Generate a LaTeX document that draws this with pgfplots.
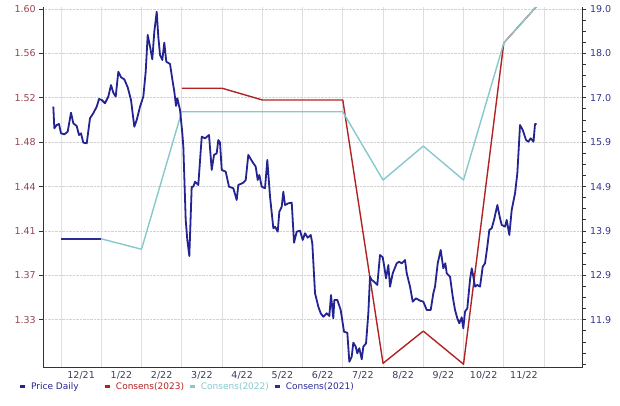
\documentclass[border=0pt]{standalone}
\usepackage{pgfplots}
\pgfplotsset{compat=1.18}
\usepackage{fontspec}
\setmainfont{DejaVu Sans}
\definecolor{pricecol}{RGB}{35,35,145}
\definecolor{c23}{RGB}{178,34,34}
\definecolor{c22}{RGB}{135,200,205}
\definecolor{c21}{RGB}{45,45,150}
\definecolor{axiscol}{RGB}{50,50,50}
\definecolor{leftlab}{RGB}{150,70,80}
\definecolor{rightlab}{RGB}{55,55,140}
\definecolor{xlab}{RGB}{60,60,90}
\begin{document}
\begin{tikzpicture}
% grid and consensus lines (right scale)
\begin{axis}[
  at={(0,0)}, anchor=south west,
  scale only axis, width=539.2pt, height=360pt,
  xmin=-0.44, xmax=12.956, ymin=10.764, ymax=19.034,
  axis x line=bottom, axis y line=right,
  axis line style={-, draw=axiscol, line width=1.4pt},
  xtick={0,...,12}, xticklabels={},
  ytick={11.86,12.88,13.9,14.92,15.94,16.96,17.98,19.0}, yticklabels={},
  major tick length=0pt,
  xmajorgrids, ymajorgrids,
  x grid style={gray!25, line width=0.7pt},
  y grid style={gray!35, densely dotted, line width=0.7pt},
]
\addplot[c23, line width=1.4pt, line join=round] coordinates {
(3,17.18)(4,17.18)(5,16.91)(7,16.91)(8,10.86)(9,11.60)(10,10.84)(11,18.22)(12,19.25)};
\addplot[c22, line width=1.4pt, line join=round] coordinates {
(0,13.72)(1,13.72)(2,13.48)(3,16.64)(7,16.64)(8,15.07)(9,15.85)(10,15.07)(11,18.22)(12,19.25)};
\addplot[c21, line width=1.6pt] coordinates {(0,13.72)(1,13.72)};
\end{axis}
% right axis ticks and labels
\begin{axis}[
  at={(0,0)}, anchor=south west,
  scale only axis, width=539.2pt, height=360pt,
  xmin=-0.44, xmax=12.956, ymin=10.764, ymax=19.034,
  axis x line=none, axis y line=right,
  axis line style={-, draw=axiscol, line width=1.4pt},
  ytick={10.84,11.095,11.35,11.605,11.86,12.115,12.37,12.625,12.88,13.135,13.39,13.645,13.9,14.155,14.41,14.665,14.92,15.175,15.43,15.685,15.94,16.195,16.45,16.705,16.96,17.215,17.47,17.725,17.98,18.235,18.49,18.745,19.0},
  yticklabels={{},{},{},{},11.9,{},{},{},12.9,{},{},{},13.9,{},{},{},14.9,{},{},{},15.9,{},{},{},17.0,{},{},{},18.0,{},{},{},19.0},
  tick align=outside, major tick length=3.5pt,
  ytick style={draw=axiscol, line width=0.9pt},
  yticklabel style={font=\fontsize{9.5}{11}\selectfont, text=rightlab, xshift=0.5pt},
]
\end{axis}
% price (left scale)
\begin{axis}[
  at={(0,0)}, anchor=south west,
  scale only axis, width=539.2pt, height=360pt,
  xmin=-0.44, xmax=12.956, ymin=1.2851, ymax=1.6013,
  axis x line=bottom, axis y line=left,
  axis line style={-, draw=axiscol, line width=1.4pt},
  xtick={0.5,1.5,2.5,3.5,4.5,5.5,6.5,7.5,8.5,9.5,10.5,11.5},
  xticklabels={12/21,1/22,2/22,3/22,4/22,5/22,6/22,7/22,8/22,9/22,10/22,11/22},
  xtick style={draw=none},
  xticklabel style={font=\fontsize{9.5}{11}\selectfont, text=xlab, yshift=3.5pt},
  ytick={1.327,1.366,1.405,1.444,1.483,1.522,1.561,1.60},
  yticklabels={1.33,1.37,1.41,1.44,1.48,1.52,1.56,1.60},
  tick align=outside, major tick length=4pt,
  ytick style={draw=axiscol, line width=0.8pt},
  yticklabel style={font=\fontsize{9.5}{11}\selectfont, text=leftlab},
  legend columns=4,
  legend style={at={(-0.046,-0.035)}, anchor=north west, draw=none, fill=none,
    font=\fontsize{9}{11}\selectfont, inner sep=0pt},
  legend cell align=left,
  legend image code/.code={\draw[#1, line width=2.4pt] (0pt,0pt) -- (5.5pt,0pt);},
]
\addplot[pricecol, line width=1.8pt, line join=round] coordinates {
(-0.191,1.5142)(-0.166,1.4952)(-0.107,1.4981)(-0.050,1.4990)(0.000,1.4908)(0.082,1.4899)
(0.166,1.4922)(0.248,1.5089)(0.306,1.4996)(0.390,1.4972)(0.447,1.4893)(0.497,1.4908)
(0.554,1.4826)(0.639,1.4820)(0.720,1.5040)(0.802,1.5084)(0.887,1.5142)(0.944,1.5209)
(1.011,1.5201)(1.093,1.5172)(1.175,1.5230)(1.242,1.5332)(1.299,1.5265)(1.359,1.5230)
(1.424,1.5449)(1.491,1.5400)(1.573,1.5382)(1.657,1.5312)(1.739,1.5201)(1.821,1.4966)
(1.881,1.5025)(1.963,1.5142)(2.045,1.5230)(2.104,1.5449)(2.154,1.5772)(2.219,1.5655)
(2.268,1.5558)(2.318,1.5801)(2.378,1.5976)(2.417,1.5757)(2.460,1.5596)(2.517,1.5552)
(2.566,1.5704)(2.616,1.5537)(2.708,1.5517)(2.775,1.5361)(2.815,1.5274)(2.857,1.5148)
(2.889,1.5216)(2.957,1.5113)(3.014,1.4908)(3.039,1.4790)(3.098,1.4147)(3.138,1.3971)
(3.188,1.3830)(3.247,1.4439)(3.287,1.4439)(3.329,1.4483)(3.411,1.4454)(3.496,1.4878)
(3.578,1.4864)(3.677,1.4893)(3.744,1.4586)(3.801,1.4718)(3.868,1.4732)(3.908,1.4849)
(3.950,1.4826)(3.993,1.4586)(4.092,1.4571)(4.174,1.4439)(4.281,1.4425)(4.365,1.4322)
(4.405,1.4454)(4.529,1.4474)(4.589,1.4498)(4.653,1.4718)(4.753,1.4659)(4.837,1.4615)
(4.887,1.4498)(4.927,1.4542)(4.986,1.4439)(5.068,1.4425)(5.125,1.4674)(5.193,1.4351)
(5.275,1.4074)(5.317,1.4088)(5.384,1.4044)(5.424,1.4219)(5.483,1.4263)(5.523,1.4395)
(5.565,1.4278)(5.647,1.4293)(5.732,1.4299)(5.789,1.3947)(5.856,1.4044)(5.938,1.4053)
(6.005,1.3971)(6.062,1.4030)(6.129,1.3991)(6.204,1.4015)(6.243,1.3942)(6.311,1.3503)
(6.393,1.3385)(6.452,1.3327)(6.517,1.3297)(6.601,1.3327)(6.666,1.3303)(6.708,1.3488)
(6.765,1.3283)(6.790,1.3444)(6.865,1.3444)(6.949,1.3356)(7.031,1.3165)(7.113,1.3157)
(7.163,1.2902)(7.222,1.2946)(7.262,1.3069)(7.322,1.3034)(7.361,1.2976)(7.411,1.3020)
(7.471,1.2923)(7.511,1.3034)(7.578,1.3063)(7.635,1.3327)(7.677,1.3649)(7.719,1.3620)
(7.776,1.3605)(7.858,1.3576)(7.925,1.3839)(7.992,1.3819)(8.025,1.3751)(8.075,1.3634)
(8.132,1.3751)(8.174,1.3561)(8.241,1.3678)(8.340,1.3766)(8.398,1.3780)(8.465,1.3766)
(8.547,1.3795)(8.589,1.3678)(8.671,1.3561)(8.738,1.3429)(8.820,1.3459)(8.919,1.3438)
(9.001,1.3429)(9.086,1.3356)(9.185,1.3356)(9.250,1.3503)(9.292,1.3561)(9.359,1.3766)
(9.433,1.3883)(9.498,1.3722)(9.548,1.3766)(9.583,1.3678)(9.665,1.3649)(9.732,1.3473)
(9.789,1.3356)(9.846,1.3283)(9.896,1.3239)(9.955,1.3292)(9.995,1.3195)(10.037,1.3341)
(10.094,1.3371)(10.161,1.3620)(10.204,1.3722)(10.244,1.3649)(10.286,1.3561)(10.343,1.3576)
(10.410,1.3561)(10.477,1.3736)(10.534,1.3766)(10.591,1.3912)(10.641,1.4059)(10.700,1.4074)
(10.758,1.4147)(10.840,1.4278)(10.907,1.4161)(10.949,1.4103)(11.031,1.4088)(11.073,1.4147)
(11.138,1.4015)(11.197,1.4234)(11.280,1.4381)(11.337,1.4557)(11.404,1.4981)(11.471,1.4937)
(11.553,1.4849)(11.610,1.4834)(11.670,1.4864)(11.739,1.4834)(11.776,1.4990)(11.818,1.4990)};
\addlegendentry{\makebox[73pt][l]{\hspace{2.5pt}\textcolor{pricecol}{Price Daily}}}
\addlegendimage{c23}
\addlegendentry{\makebox[73pt][l]{\hspace{2.5pt}\textcolor{c23}{Consens(2023)}}}
\addlegendimage{c22}
\addlegendentry{\makebox[73pt][l]{\hspace{2.5pt}\textcolor{c22}{Consens(2022)}}}
\addlegendimage{c21}
\addlegendentry{\makebox[73pt][l]{\hspace{2.5pt}\textcolor{c21}{Consens(2021)}}}
\end{axis}
\pgfresetboundingbox
\useasboundingbox (-43.3pt,-38.5pt) rectangle (576.7pt,367.5pt);
\end{tikzpicture}
\end{document}
